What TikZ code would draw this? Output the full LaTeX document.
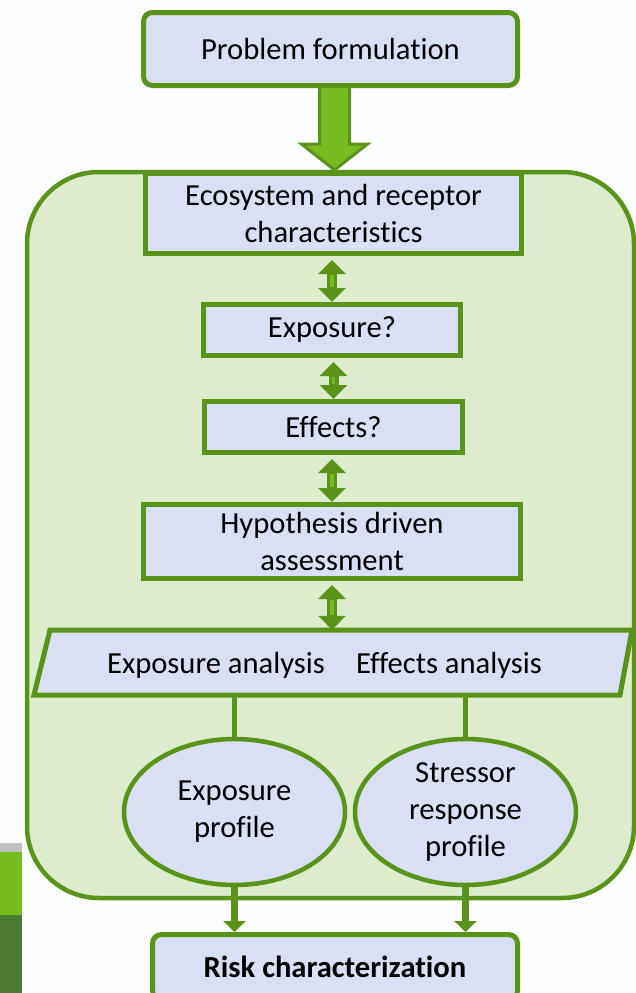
\documentclass[tikz,border=0pt]{standalone}
\usepackage{fontspec}
\setmainfont{Carlito}[Ligatures=NoCommon]
\usetikzlibrary{arrows.meta,calc,shapes.geometric}

\definecolor{edgegreen}{RGB}{90,146,26}
\definecolor{leafgreen}{RGB}{119,188,31}
\definecolor{darkleaf}{RGB}{74,122,43}
\definecolor{panelgreen}{RGB}{220,236,204}
\definecolor{boxlav}{RGB}{218,224,244}
\definecolor{paper}{RGB}{251,253,254}
\definecolor{bargrey}{RGB}{192,192,192}

\begin{document}
\begin{tikzpicture}[x=1pt, y=-1pt,
  font=\fontsize{30.6}{37}\selectfont,
  box/.style={draw=edgegreen, line width=5pt, fill=boxlav, align=center, inner sep=0pt},
  roundbox/.style={box, rounded corners=9pt},
  profile/.style={ellipse, draw=edgegreen, line width=4.5pt, fill=boxlav, align=center,
    inner sep=0pt, minimum width=221pt, minimum height=146pt},
  panel/.style={draw=edgegreen, line width=4.5pt, fill=panelgreen, rounded corners=72pt},
  bigarrow/.style={fill=leafgreen, draw=edgegreen, line width=3pt, line join=miter},
  dbl/.style={draw=edgegreen, line width=10pt, shorten <=4pt,
    {Triangle[width=27pt,length=14pt]}-{Triangle[width=27pt,length=14pt]}},
  dblcore/.style={draw=leafgreen, line width=3.5pt, shorten <=19pt, shorten >=15pt},
  link/.style={draw=edgegreen, line width=5pt},
  feed/.style={draw=edgegreen, line width=7pt, -{Triangle[width=22pt,length=11pt]}},
  label/.style={inner sep=0pt}
]
% page and side bars
\useasboundingbox (0,0) rectangle (636,993);
\fill[paper] (0,0) rectangle (636,993);
\fill[bargrey] (0,843) rectangle (22,852);
\fill[leafgreen] (0,852) rectangle (22,915);
\fill[darkleaf] (0,915) rectangle (22,993);

% analysis panel
\draw[panel] (27,172) rectangle (634,898);

% top box and the block arrow into the panel
\node[roundbox, minimum width=374pt, minimum height=73pt] (prob) at (330.5,49) {Problem formulation};
\coordinate (tip) at (334.5,170);
\draw[bigarrow] (prob.south -| tip) ++(-15,0) coordinate (s1)
  -- (s1 |- 0,144) -- ++(-18,0) -- (tip) -- ($(tip)+(33,-26)$) -- ++(-18,0)
  -- ($(prob.south -| tip)+(15,0)$);

% question boxes
\node[box, minimum width=376pt, minimum height=80pt] (eco) at (333.5,213.5)
  {Ecosystem and receptor\\characteristics};
\node[box, minimum width=257pt, minimum height=51pt] (expo) at (332,330) {Exposure?};
\node[box, minimum width=258pt, minimum height=51pt] (eff) at (333.5,427) {Effects?};
\node[box, minimum width=377pt, minimum height=74pt] (hyp) at (332,541.5)
  {Hypothesis driven\\assessment};

% analysis parallelogram
\node[minimum width=586pt, minimum height=65pt, inner sep=0pt] (ana) at (332,662.5) {};
\draw[box] (34,695) -- (50,630) -- (632,630) -- (620,695) -- cycle;
\node[label] (anaL) at (216,665) {Exposure analysis};
\node[label] (anaR) at (449,665) {Effects analysis};

% profiles
\node[profile] (expp) at (234.5,812) {Exposure\\profile};
\node[profile] (strp) at (465.5,812) {Stressor\\response\\profile};

% result box
\node[roundbox, minimum width=365pt, minimum height=65pt] (risk) at (335,967)
  {\bfseries Risk characterization};

% two-way links between the question boxes
\foreach \a/\b in {eco/expo, expo/eff, eff/hyp, hyp/ana}{
  \draw[dbl] (\b.north |- \a.south) -- (\b.north);
  \draw[dblcore] (\b.north |- \a.south) -- (\b.north);
}

% analysis to profiles
\draw[link] (expp.north) -- (expp.north |- ana.south);
\draw[link] (strp.north) -- (strp.north |- ana.south);

% profiles to risk characterization
\draw[feed] (expp.south) -- (expp.south |- risk.north);
\draw[feed] (strp.south) -- (strp.south |- risk.north);
\end{tikzpicture}
\end{document}
